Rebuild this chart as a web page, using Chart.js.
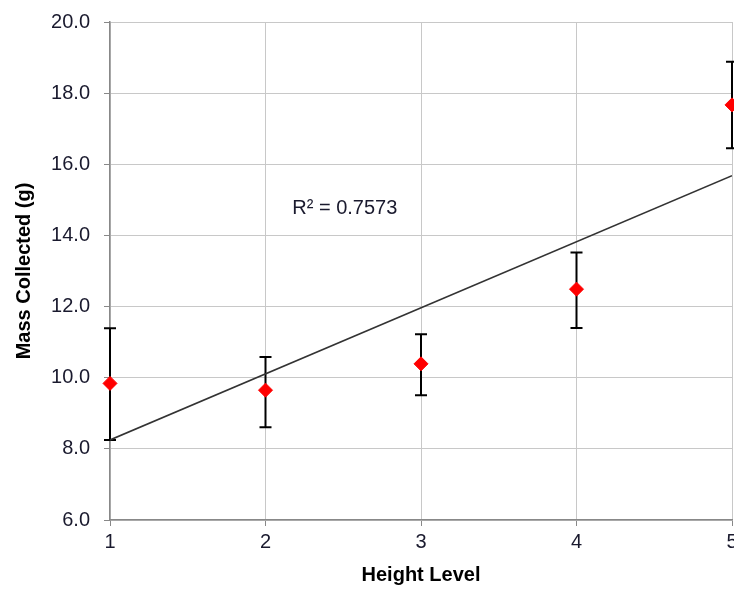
<!DOCTYPE html>
<html>
<head>
<meta charset="utf-8">
<script src="https://cdn.jsdelivr.net/npm/chart.js@4"></script>
<style>
  html, body { margin: 0; padding: 0; background: #fff; overflow: hidden; }
</style>
</head>
<body>
<canvas id="massChart" width="734" height="589"></canvas>
<script>
const heightLevels = [1, 2, 3, 4, 5];
const massValues = [9.84, 9.65, 10.39, 12.49, 17.67];
const errLow = [8.25, 8.61, 9.51, 11.40, 16.45];
const errHigh = [11.39, 10.58, 11.22, 13.52, 18.88];
const trendX = [1, 5];
const trendY = [8.25, 15.68];
const yTicks = [6, 8, 10, 12, 14, 16, 18, 20];
const rSquaredLabel = 'R\u00B2 = 0.7573';

// error bars drawn with the chart's own scales
const errorBars = {
    id: 'errorBars',
    beforeDatasetsDraw(chart) {
        const ctx = chart.ctx;
        const xs = chart.scales.x, ys = chart.scales.y;
        ctx.save();
        ctx.strokeStyle = '#000';
        ctx.lineWidth = 2;
        heightLevels.forEach(function(h, i) {
            const px = xs.getPixelForValue(h);
            const top = ys.getPixelForValue(errHigh[i]);
            const bot = ys.getPixelForValue(errLow[i]);
            ctx.beginPath();
            ctx.moveTo(px, top); ctx.lineTo(px, bot);
            ctx.moveTo(px - 6, top); ctx.lineTo(px + 6, top);
            ctx.moveTo(px - 6, bot); ctx.lineTo(px + 6, bot);
            ctx.stroke();
        });
        ctx.restore();
    }
};

const rLabel = {
    id: 'rLabel',
    afterDatasetsDraw(chart) {
        const ctx = chart.ctx;
        ctx.save();
        ctx.font = '20px "Liberation Sans", Arial, sans-serif';
        ctx.fillStyle = '#1a1a2e';
        ctx.textAlign = 'center';
        ctx.textBaseline = 'middle';
        ctx.fillText(rSquaredLabel, chart.scales.x.getPixelForValue(2.51), chart.scales.y.getPixelForValue(14.77));
        ctx.restore();
    }
};

const ctx = document.getElementById('massChart').getContext('2d');

new Chart(ctx, {
    type: 'scatter',
    data: {
        datasets: [{
            label: 'Mass',
            data: heightLevels.map(function(h, i) { return { x: h, y: massValues[i] }; }),
            backgroundColor: '#ff0000',
            borderColor: '#ff0000',
            pointStyle: 'rectRot',
            pointRadius: 7,
            pointHoverRadius: 7,
            clip: false,
            order: 1
        }, {
            label: 'Trend',
            data: trendX.map(function(x, i) { return { x: x, y: trendY[i] }; }),
            showLine: true,
            borderColor: '#333',
            borderWidth: 1.6,
            pointRadius: 0,
            order: 2
        }]
    },
    options: {
        responsive: false,
        animation: false,
        layout: { autoPadding: false, padding: { left: 0, top: 22, right: 2, bottom: 0 } },
        plugins: {
            legend: { display: false },
            tooltip: { enabled: false }
        },
        scales: {
            x: {
                type: 'linear',
                min: 1,
                max: 5,
                afterFit: function(scale) {
                    scale.height = 69;
                    scale.paddingRight = 0;
                    scale.paddingLeft = 0;
                },
                ticks: {
                    stepSize: 1,
                    padding: 4,
                    color: '#1a1a2e',
                    font: { family: '"Liberation Sans", Arial, sans-serif', size: 20 }
                },
                grid: { color: '#c8c8c8', tickColor: '#888', tickLength: 6 },
                border: { color: '#888', width: 1.5 },
                title: {
                    display: true,
                    text: 'Height Level',
                    color: '#000',
                    padding: { top: 0, bottom: 2 },
                    font: { family: '"Liberation Sans", Arial, sans-serif', size: 20, weight: 'bold' }
                }
            },
            y: {
                min: 6,
                max: 20,
                afterFit: function(scale) {
                    scale.width = 110;
                    scale.paddingTop = 0;
                    scale.paddingBottom = 0;
                },
                afterBuildTicks: function(scale) {
                    scale.ticks = yTicks.map(function(v) { return { value: v }; });
                },
                ticks: {
                    padding: 14,
                    color: '#1a1a2e',
                    font: { family: '"Liberation Sans", Arial, sans-serif', size: 20 },
                    callback: function(v) { return Number(v).toFixed(1); }
                },
                grid: { color: '#c8c8c8', tickColor: '#888', tickLength: 6 },
                border: { color: '#888', width: 1.5 },
                title: {
                    display: true,
                    text: 'Mass Collected (g)',
                    color: '#000',
                    padding: { top: 12, bottom: 0 },
                    font: { family: '"Liberation Sans", Arial, sans-serif', size: 20, weight: 'bold' }
                }
            }
        }
    },
    plugins: [errorBars, rLabel]
});
</script>
</body>
</html>
